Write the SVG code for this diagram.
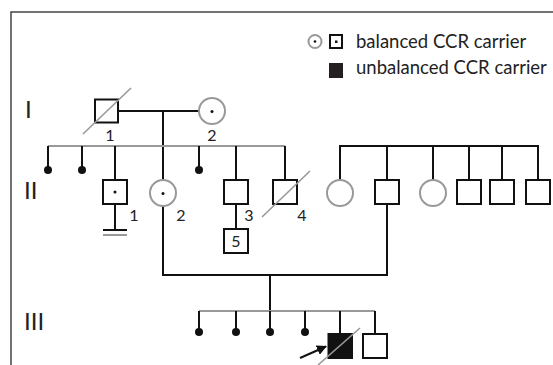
<svg xmlns="http://www.w3.org/2000/svg" width="553" height="365" viewBox="0 0 553 365">
<style>
.ln{stroke:#111;stroke-width:2;fill:none}
.gl{stroke:#999;stroke-width:2;fill:none}
.sq{stroke:#111;stroke-width:2;fill:#fff}
.ci{stroke:#999;stroke-width:2;fill:#fff}
.dg{stroke:#999;stroke-width:1.6;fill:none}
.t{font-family:Lato,"Liberation Sans",sans-serif;fill:#222}
.gen{font-size:24px}
.lab{font-size:16px}
.leg{font-size:18.5px}
</style>
<defs>
<marker id="ah" viewBox="0 0 10 10" refX="9" refY="5" markerWidth="5" markerHeight="5" orient="auto"><path d="M0,0 L10,5 L0,10 z" fill="#111"/></marker>
</defs>
<rect x="0" y="0" width="553" height="365" fill="#fff"/>
<path d="M11,365 V12 H553" stroke="#444" stroke-width="1.5" fill="none"/>
<g id="legend">
<circle cx="315" cy="41.5" r="6.5" class="ci"/>
<circle cx="315" cy="41.5" r="1.3" fill="#111"/>
<rect x="330" y="35" width="12" height="13" class="sq"/>
<rect x="335" y="40.5" width="2.5" height="2.5" fill="#111"/>
<text x="356" y="48" class="t leg">balanced CCR carrier</text>
<rect x="329" y="63" width="14" height="15" fill="#231f20"/>
<text x="356" y="74" class="t leg">unbalanced CCR carrier</text>
</g>
<g id="gen-labels">
<text x="25" y="117.5" class="t gen">I</text>
<text x="24" y="198.5" class="t gen">II</text>
<text x="24" y="329.5" class="t gen">III</text>
</g>
<g id="connectors">
<path d="M118,111 H199" class="ln"/>
<path d="M163,111 V180" class="ln"/>
<path d="M48,146 H285" class="gl"/>
<path d="M48,146 V170 M82,146 V170 M115,146 V180 M199,146 V170 M236,146 V180 M285,146 V180" class="ln"/>
<path d="M115,204 V230 M103,230 H127" class="ln"/>
<path d="M103,235 H127" class="gl"/>
<path d="M236,204 V229" class="ln"/>
<path d="M340,180 V146 H538 V180 M387,146 V180 M433,146 V180 M469,146 V180 M502,146 V180" class="ln"/>
<path d="M163,206 V275 H387 V204" class="ln"/>
<path d="M270,275 V311" class="ln"/>
<path d="M199,311 H375" class="gl"/>
<path d="M199,311 V332 M236,311 V332 M270,311 V332 M305,311 V332 M340,311 V334 M375,311 V334" class="ln"/>
<path d="M300,358 L326,346.5" stroke="#111" stroke-width="2" marker-end="url(#ah)"/>
</g>
<g id="I-1">
<rect x="95" y="99.5" width="23" height="23" class="sq"/>
<path d="M83,134 L131,88" class="dg"/>
<text x="110" y="141" class="t lab" text-anchor="middle">1</text>
</g>
<g id="I-2">
<circle cx="212" cy="111" r="13" class="ci"/>
<circle cx="212" cy="111.5" r="1.5" fill="#111"/>
<text x="212" y="141" class="t lab" text-anchor="middle">2</text>
</g>
<g id="II-dots">
<circle cx="48" cy="170" r="4" fill="#111"/>
<circle cx="82" cy="170" r="4" fill="#111"/>
<circle cx="199" cy="170" r="4" fill="#111"/>
</g>
<g id="II-1">
<rect x="103" y="180" width="24" height="24" class="sq"/>
<circle cx="115" cy="192" r="1.5" fill="#111"/>
<text x="134" y="221" class="t lab" text-anchor="middle">1</text>
</g>
<g id="II-2">
<circle cx="163" cy="193" r="13" class="ci"/>
<circle cx="163" cy="193.5" r="1.5" fill="#111"/>
<text x="181" y="221" class="t lab" text-anchor="middle">2</text>
</g>
<g id="II-3">
<rect x="224" y="180" width="24" height="24" class="sq"/>
<text x="249" y="221" class="t lab" text-anchor="middle">3</text>
</g>
<g id="II-3-child">
<rect x="224" y="229" width="24" height="24" class="sq"/>
<text x="236" y="247" class="t lab" text-anchor="middle">5</text>
</g>
<g id="II-4">
<rect x="273" y="180" width="24" height="24" class="sq"/>
<path d="M262,217 L310,171" class="dg"/>
<text x="302" y="221" class="t lab" text-anchor="middle">4</text>
</g>
<g id="II-spouse-family">
<circle cx="340" cy="193" r="13" class="ci"/>
<rect x="375" y="180" width="24" height="24" class="sq"/>
<circle cx="433" cy="193" r="13" class="ci"/>
<rect x="457" y="180" width="24" height="24" class="sq"/>
<rect x="490" y="180" width="24" height="24" class="sq"/>
<rect x="526" y="180" width="24" height="24" class="sq"/>
</g>
<g id="III-dots">
<circle cx="199" cy="332" r="4" fill="#111"/>
<circle cx="236" cy="332" r="4" fill="#111"/>
<circle cx="270" cy="332" r="4" fill="#111"/>
<circle cx="305" cy="332" r="4" fill="#111"/>
</g>
<g id="III-proband">
<rect x="328.5" y="334" width="23.5" height="24" fill="#111" stroke="#111" stroke-width="2"/>
<path d="M318,365 L360,328" class="dg"/>
</g>
<g id="III-sib">
<rect x="363" y="334" width="24" height="24" class="sq"/>
</g>
</svg>
